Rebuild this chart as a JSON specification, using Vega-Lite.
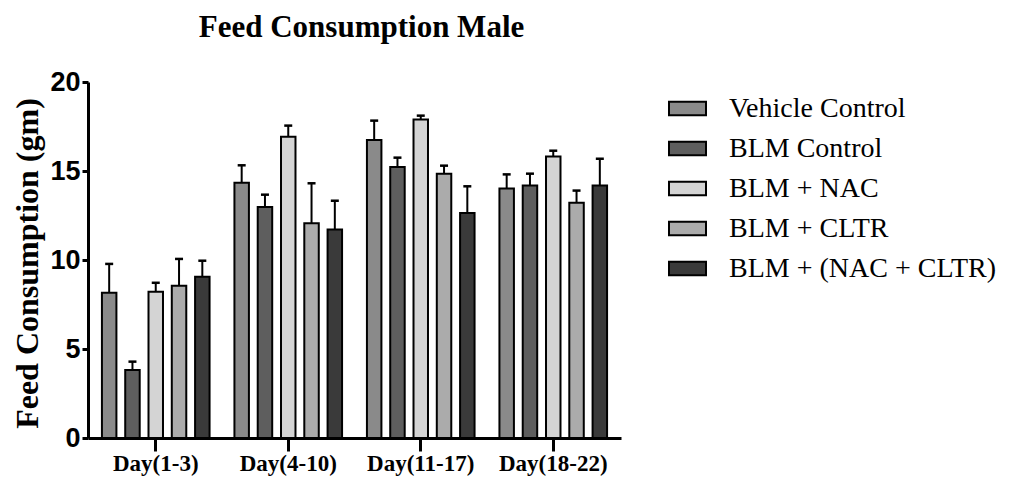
{
  "$schema": "https://vega.github.io/schema/vega-lite/v6.json",
  "width": 533,
  "height": 356,
  "autosize": "none",
  "padding": {"left": 88, "top": 82, "right": 391, "bottom": 39},
  "background": "white",
  "view": {"stroke": null},
  "title": {
    "text": "Feed Consumption Male",
    "font": "Liberation Serif",
    "fontSize": 31,
    "fontWeight": "bold",
    "color": "black",
    "frame": "group",
    "anchor": "middle",
    "dx": 7,
    "offset": 24
  },
  "data": {
    "values": [
      {"day": "Day(1-3)", "group": "Vehicle Control", "mean": 8.16, "upper": 9.78},
      {"day": "Day(1-3)", "group": "BLM Control", "mean": 3.82, "upper": 4.29},
      {"day": "Day(1-3)", "group": "BLM + NAC", "mean": 8.22, "upper": 8.72},
      {"day": "Day(1-3)", "group": "BLM + CLTR", "mean": 8.56, "upper": 10.06},
      {"day": "Day(1-3)", "group": "BLM + (NAC + CLTR)", "mean": 9.06, "upper": 9.96},
      {"day": "Day(4-10)", "group": "Vehicle Control", "mean": 14.34, "upper": 15.32},
      {"day": "Day(4-10)", "group": "BLM Control", "mean": 12.98, "upper": 13.67},
      {"day": "Day(4-10)", "group": "BLM + NAC", "mean": 16.93, "upper": 17.55},
      {"day": "Day(4-10)", "group": "BLM + CLTR", "mean": 12.06, "upper": 14.31},
      {"day": "Day(4-10)", "group": "BLM + (NAC + CLTR)", "mean": 11.72, "upper": 13.33},
      {"day": "Day(11-17)", "group": "Vehicle Control", "mean": 16.74, "upper": 17.83},
      {"day": "Day(11-17)", "group": "BLM Control", "mean": 15.22, "upper": 15.75},
      {"day": "Day(11-17)", "group": "BLM + NAC", "mean": 17.9, "upper": 18.11},
      {"day": "Day(11-17)", "group": "BLM + CLTR", "mean": 14.85, "upper": 15.3},
      {"day": "Day(11-17)", "group": "BLM + (NAC + CLTR)", "mean": 12.64, "upper": 14.14},
      {"day": "Day(18-22)", "group": "Vehicle Control", "mean": 14.01, "upper": 14.81},
      {"day": "Day(18-22)", "group": "BLM Control", "mean": 14.19, "upper": 14.85},
      {"day": "Day(18-22)", "group": "BLM + NAC", "mean": 15.81, "upper": 16.14},
      {"day": "Day(18-22)", "group": "BLM + CLTR", "mean": 13.22, "upper": 13.9},
      {"day": "Day(18-22)", "group": "BLM + (NAC + CLTR)", "mean": 14.19, "upper": 15.69}
    ]
  },
  "encoding": {
    "x": {
      "field": "day",
      "type": "nominal",
      "sort": ["Day(1-3)", "Day(4-10)", "Day(11-17)", "Day(18-22)"],
      "scale": {"paddingInner": 0, "paddingOuter": 0.0113},
      "axis": {
        "title": null,
        "labelAngle": 0,
        "labelFont": "Liberation Serif",
        "labelFontWeight": "bold",
        "labelFontSize": 23,
        "labelColor": "black",
        "labelPadding": 1,
        "tickSize": 13,
        "tickWidth": 3,
        "tickColor": "black",
        "domainWidth": 3,
        "domainColor": "black",
        "bandPosition": 0.5
      }
    },
    "xOffset": {
      "field": "group",
      "type": "nominal",
      "sort": ["Vehicle Control", "BLM Control", "BLM + NAC", "BLM + CLTR", "BLM + (NAC + CLTR)"],
      "scale": {"paddingInner": 0.378, "paddingOuter": 0.534}
    }
  },
  "layer": [
    {
      "mark": {"type": "bar", "stroke": "black", "strokeWidth": 2, "opacity": 1},
      "encoding": {
        "y": {
          "field": "mean",
          "type": "quantitative",
          "scale": {"domain": [0, 20], "nice": false},
          "axis": {
            "values": [0, 5, 10, 15, 20],
            "grid": false,
            "title": "Feed Consumption (gm)",
            "titleFont": "Liberation Serif",
            "titleFontWeight": "bold",
            "titleFontSize": 32,
            "titleColor": "black",
            "titleAngle": -90,
            "titleBaseline": "alphabetic",
            "titleAlign": "center",
            "titleX": -51,
            "titleY": 181,
            "labelFont": "Liberation Sans",
            "labelFontWeight": "bold",
            "labelFontSize": 27,
            "labelColor": "black",
            "labelPadding": 2,
            "tickSize": 6,
            "tickWidth": 3,
            "tickColor": "black",
            "domainWidth": 3,
            "domainColor": "black"
          }
        },
        "fill": {
          "field": "group",
          "type": "nominal",
          "sort": ["Vehicle Control", "BLM Control", "BLM + NAC", "BLM + CLTR", "BLM + (NAC + CLTR)"],
          "scale": {"range": ["#8a8a8a", "#5e5e5e", "#d4d4d4", "#ababab", "#3a3a3a"]},
          "legend": {
            "orient": "none",
            "legendX": 580,
            "legendY": 7,
            "title": null,
            "labelFont": "Liberation Serif",
            "labelFontSize": 28,
            "labelColor": "black",
            "labelLimit": 400,
            "labelOffset": 22,
            "symbolType": "M-1,-0.37L1,-0.37L1,0.37L-1,0.37Z",
            "symbolSize": 1369,
            "symbolStrokeColor": "black",
            "symbolStrokeWidth": 2,
            "symbolOpacity": 1,
            "rowPadding": 6
          }
        }
      }
    },
    {
      "mark": {"type": "rule", "color": "black", "strokeWidth": 2},
      "encoding": {
        "y": {"field": "mean", "type": "quantitative"},
        "y2": {"field": "upper"}
      }
    },
    {
      "mark": {"type": "tick", "color": "black", "size": 8, "thickness": 2.5, "opacity": 1},
      "encoding": {
        "y": {"field": "upper", "type": "quantitative"}
      }
    }
  ]
}
